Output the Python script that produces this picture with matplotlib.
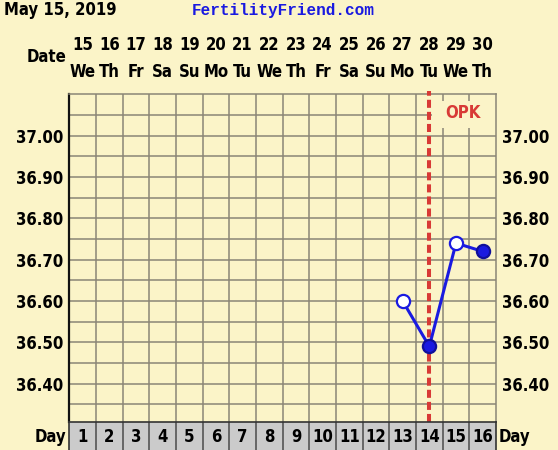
import matplotlib.pyplot as plt
import matplotlib.transforms as mtransforms
import numpy as np

# chart data
days = list(range(1, 17))
dates = list(range(15, 31))
weekdays = ['We', 'Th', 'Fr', 'Sa', 'Su', 'Mo', 'Tu', 'We', 'Th', 'Fr', 'Sa', 'Su', 'Mo', 'Tu', 'We', 'Th']
temp_days = [13, 14, 15, 16]
temps = [36.60, 36.49, 36.74, 36.72]
filled = [False, True, False, True]
opk_day = 14
ytick_vals = [36.40, 36.50, 36.60, 36.70, 36.80, 36.90, 37.00]

bg = '#fbf4c8'
grid_c = '#8a8676'
blue = '#1a1ae0'
red = '#d83a36'
font = {'family': 'DejaVu Sans', 'weight': 'bold', 'fontsize': 12, 'stretch': 'condensed'}

fig = plt.figure(figsize=(5.58, 4.5), dpi=100, facecolor=bg)

# main temperature grid
ax = fig.add_axes([0.1242, 0.0629, 0.7647, 0.7275])
ax.set_facecolor(bg)
ax.set_xlim(0.5, 16.5)
ax.set_ylim(36.308, 37.10)
ax.set_xticks([d + 0.5 for d in days[:-1]], minor=True)
ax.set_xticks([])
ax.set_yticks(ytick_vals)
ax.set_yticklabels([f'{v:.2f}' for v in ytick_vals], **font)
ax.set_yticks(np.arange(36.35, 37.06, 0.05), minor=True)
ax.tick_params(which='both', length=0, labelright=True, pad=4.5)
ax.grid(which='both', color=grid_c, linewidth=1.1)
ax.set_axisbelow(True)
for s in ['top', 'right']:
    ax.spines[s].set_color(grid_c)
    ax.spines[s].set_linewidth(1.1)
ax.spines['left'].set_color('#111111')
ax.spines['left'].set_linewidth(1.6)
ax.spines['bottom'].set_visible(False)

# OPK marker line and label
ax.axvline(opk_day, ymin=0, ymax=1.01, color=red, linewidth=2.9,
           dashes=(2, 1), zorder=3, clip_on=False)
ax.add_patch(plt.Rectangle((opk_day + 0.1, 37.018), 2.45, 0.066, facecolor=bg,
                           edgecolor='none', zorder=2.5, clip_on=False))
ax.text(opk_day + 1.25, 37.054, 'OPK', color=red, ha='center', va='center',
        zorder=4, **font)

# temperature line
ax.plot(temp_days, temps, color=blue, linewidth=2.2, zorder=5)
for d, t, f in zip(temp_days, temps, filled):
    ax.plot(d, t, 'o', markersize=9.5, markeredgewidth=1.6, zorder=6,
            markerfacecolor=blue if f else 'white',
            markeredgecolor='#10109a' if f else blue)

# date / weekday header
trans = mtransforms.blended_transform_factory(ax.transData, fig.transFigure)
for d, dt, wd in zip(days, dates, weekdays):
    fig.text(d, 1 - 45 / 450, str(dt), transform=trans, ha='center', va='center', **font)
    fig.text(d, 1 - 72 / 450, wd, transform=trans, ha='center', va='center', **font)
fig.text(47 / 558, 1 - 57 / 450, 'Date', ha='center', va='center', **font)

fig.text(4 / 558, 1 - 10 / 450, 'May 15, 2019', ha='left', va='center', **font)
fig.text(283 / 558, 1 - 11 / 450, 'FertilityFriend.com', ha='center', va='center',
         family='Liberation Mono', weight='bold', fontsize=11.5, color=blue)

# day row
axd = fig.add_axes([0.1242, -0.01, 0.7647, 0.0729])
axd.set_facecolor('#cbcbcb')
axd.set_xlim(0.5, 16.5)
axd.set_ylim(0, 1)
axd.set_xticks([])
axd.set_yticks([])
for d in days[:-1]:
    axd.axvline(d + 0.5, color='#4a4a4a', linewidth=1.1)
for s in axd.spines.values():
    s.set_color('#333333')
    s.set_linewidth(1.2)
for d in days:
    axd.text(d, 0.52, str(d), ha='center', va='center', **font)
fig.text(66 / 558, 1 - 437 / 450, 'Day', ha='right', va='center', **font)
fig.text(499 / 558, 1 - 437 / 450, 'Day', ha='left', va='center', **font)

fig.savefig('out.png', dpi=100, facecolor=bg)
